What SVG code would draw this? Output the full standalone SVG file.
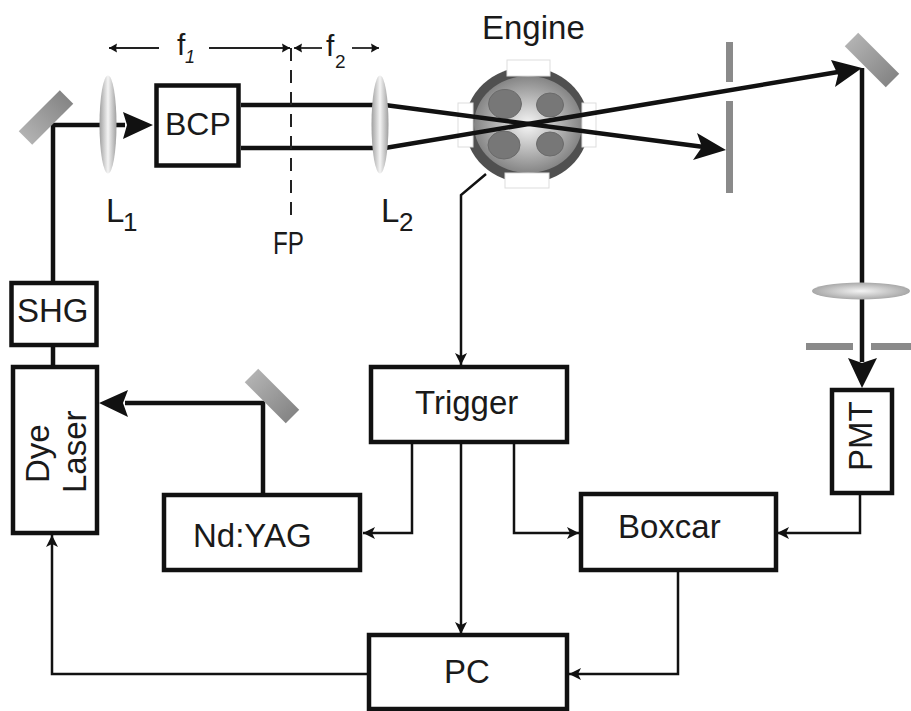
<svg xmlns="http://www.w3.org/2000/svg" width="911" height="711" viewBox="0 0 911 711">
<defs>
<linearGradient id="lensH"><stop offset="0" stop-color="#a0a0a0"/><stop offset="0.5" stop-color="#f4f4f4"/><stop offset="1" stop-color="#a0a0a0"/></linearGradient>
<radialGradient id="lensV"><stop offset="0" stop-color="#f4f4f4"/><stop offset="1" stop-color="#a8a8a8"/></radialGradient>
<linearGradient id="mirror"><stop offset="0" stop-color="#b2b2b2"/><stop offset="1" stop-color="#858585"/></linearGradient>
<radialGradient id="eng"><stop offset="0" stop-color="#f6f6f6"/><stop offset="1" stop-color="#858585"/></radialGradient>
<marker id="as" markerUnits="userSpaceOnUse" markerWidth="13" markerHeight="13" refX="12" refY="6.500" orient="auto"><path d="M0 0.500L12 6.500L0 12.500L3 6.500Z" fill="#111"/></marker>
<marker id="at" markerUnits="userSpaceOnUse" markerWidth="9" markerHeight="10" refX="8" refY="5" orient="auto"><path d="M0 0.500L8 5L0 9.500L1 5Z" fill="#111"/></marker>
</defs>
<style>
text{font-family:"Liberation Sans",Arial,sans-serif;fill:#1a1a1a;font-size:33px}
.box{fill:#fff;stroke:#111;stroke-width:4.5}
.beam{fill:none;stroke:#111;stroke-width:4.5}
.thin{fill:none;stroke:#111;stroke-width:2.5}
.dim{fill:none;stroke:#222;stroke-width:1.800}
.mir{fill:url(#mirror)}
.port{fill:#fff;stroke:#ddd;stroke-width:1}
.hole{fill:#777;stroke:#6a6a6a}
.head{fill:#111}
.stop{fill:#8a8a8a}
.sub{font-size:26px}
</style>
<rect width="911" height="711" fill="#fff"/>
<g id="engine">
<ellipse cx="527" cy="125" rx="62" ry="58" fill="#505050"/>
<ellipse cx="528" cy="124.500" rx="54" ry="48.500" fill="url(#eng)"/>
<ellipse class="hole" cx="505" cy="104" rx="16.500" ry="14.500"/>
<ellipse class="hole" cx="550" cy="105" rx="13.500" ry="12"/>
<ellipse class="hole" cx="504" cy="145" rx="16" ry="14"/>
<ellipse class="hole" cx="550" cy="144" rx="13.500" ry="12"/>
<rect class="port" x="507" y="60" width="43" height="16"/>
<rect class="port" x="505" y="173" width="44" height="15"/>
<rect class="port" x="458" y="103" width="15" height="44"/>
<rect class="port" x="582" y="103" width="14" height="44"/>
<text x="482" y="39">Engine</text>
</g>
<g id="connectors">
<path class="beam" d="M53 367V125H125"/>
<path class="beam" d="M241 105H385L704 147"/>
<path class="beam" d="M241 148H385L838 72"/>
<path class="beam" d="M263 494V403H125"/>
<path class="beam" d="M862 68V362"/>
<path class="head" d="M153 125L123 112L127 125L123 139Z"/>
<path class="head" d="M726 150L693 160L702 147L697 133Z"/>
<path class="head" d="M862 68L835 87L838 75L831 60Z"/>
<path class="head" d="M99 403L128 390L123 403L128 417Z"/>
<path class="head" d="M862 388L848 358L862 363L877 358Z"/>
<path d="M291 48V222" fill="none" stroke="#222" stroke-width="2" stroke-dasharray="13 9"/>
<path class="dim" d="M159 48H109" marker-end="url(#at)"/>
<path class="dim" d="M209 48H290" marker-end="url(#at)"/>
<path class="dim" d="M322 48H294" marker-end="url(#at)"/>
<path class="dim" d="M352 48H379" marker-end="url(#at)"/>
<path class="thin" d="M486 174L461 195V365" marker-end="url(#as)"/>
<path class="thin" d="M412 443V533H363" marker-end="url(#as)"/>
<path class="thin" d="M514 443V533H579" marker-end="url(#as)"/>
<path class="thin" d="M461 443V634" marker-end="url(#as)"/>
<path class="thin" d="M860 493V533H777" marker-end="url(#as)"/>
<path class="thin" d="M678 571V674H569" marker-end="url(#as)"/>
<path class="thin" d="M368 674H52V535" marker-end="url(#as)"/>
</g>
<g id="mirror-left"><rect class="mir" x="-29" y="-9.500" width="58" height="19" transform="translate(46 117.500) rotate(-45)"/></g>
<g id="mirror-right"><rect class="mir" x="-29" y="-9.500" width="58" height="19" transform="translate(872 60) rotate(45)"/></g>
<g id="mirror-yag"><rect class="mir" x="-29" y="-9.500" width="58" height="19" transform="translate(272 396) rotate(45)"/></g>
<g id="lens-1"><ellipse cx="108" cy="124.500" rx="8.500" ry="49" fill="url(#lensH)"/><text x="106" y="222">L</text><text class="sub" x="123" y="231">1</text></g>
<g id="lens-2"><ellipse cx="380" cy="124.500" rx="8.500" ry="49" fill="url(#lensH)"/><text x="381" y="222">L</text><text class="sub" x="399" y="231">2</text></g>
<g id="lens-3"><ellipse cx="861" cy="291" rx="49" ry="8.500" fill="url(#lensV)"/></g>
<g id="slit-v"><rect class="stop" x="726" y="42" width="7" height="40"/><rect class="stop" x="726" y="101" width="7" height="92"/></g>
<g id="slit-h"><rect class="stop" x="806" y="343" width="47" height="7"/><rect class="stop" x="871" y="343" width="40" height="7"/></g>
<g id="bcp"><rect class="box" x="156.500" y="85.500" width="82" height="80"/><text x="165" y="135" style="font-size:32px">BCP</text></g>
<g id="shg"><rect class="box" x="11.500" y="283" width="85" height="62"/><text x="17" y="322">SHG</text></g>
<g id="dye"><rect class="box" x="13" y="367" width="84" height="166"/><text transform="translate(49 483) rotate(-90)">Dye</text><text transform="translate(86 493) rotate(-90)">Laser</text></g>
<g id="yag"><rect class="box" x="164" y="495" width="196" height="75"/><text x="193" y="547">Nd:YAG</text></g>
<g id="trigger"><rect class="box" x="371" y="367" width="196" height="75"/><text x="415" y="414">Trigger</text></g>
<g id="boxcar"><rect class="box" x="581" y="494" width="195" height="76"/><text x="618" y="538">Boxcar</text></g>
<g id="pc"><rect class="box" x="369" y="635" width="198" height="74"/><text x="444" y="683">PC</text></g>
<g id="pmt"><rect class="box" x="832" y="390" width="60" height="103"/><text transform="translate(872 471) rotate(-90)">PMT</text></g>
<g id="labels">
<text x="177" y="55" style="font-size:30px">f</text><text x="185" y="63" style="font-size:18px;font-style:italic">1</text>
<text x="326" y="56" style="font-size:30px">f</text><text x="335" y="68" style="font-size:19px">2</text>
<text x="273" y="254" textLength="31" lengthAdjust="spacingAndGlyphs" style="font-size:31px">FP</text>
</g>
</svg>
